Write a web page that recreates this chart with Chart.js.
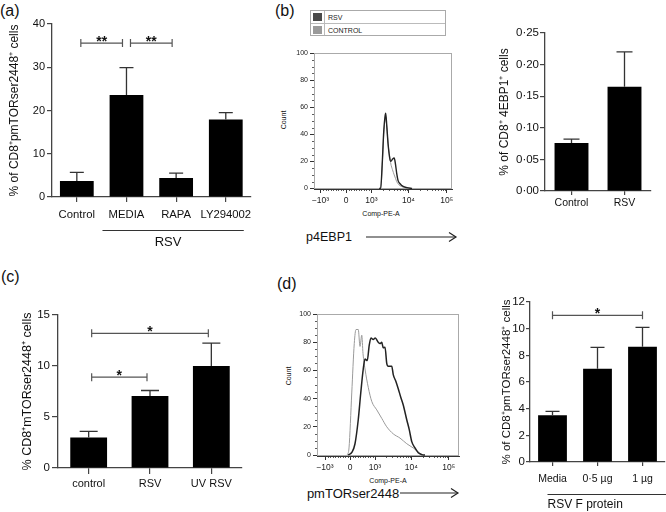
<!DOCTYPE html>
<html><head><meta charset="utf-8">
<script src="https://cdn.jsdelivr.net/npm/chart.js@4.4.0/dist/chart.umd.min.js"></script>
<style>
body{margin:0;background:#fff;width:666px;height:512px;overflow:hidden;position:relative;font-family:"Liberation Sans",Arial,sans-serif;}
canvas{position:absolute;}
.t{position:absolute;white-space:nowrap;color:#111;line-height:1;transform:translate(-50%,-50%);}
.lab{position:absolute;white-space:nowrap;color:#111;line-height:1;font-size:16px;}
</style></head><body>
<div class="lab" style="left:0px;top:3px">(a)</div>
<div class="lab" style="left:275px;top:3px">(b)</div>
<div class="lab" style="left:1px;top:269px">(c)</div>
<div class="lab" style="left:277px;top:276px">(d)</div>

<!-- legend of (b) histogram -->
<div style="position:absolute;left:310px;top:10px;width:136px;height:26px;border:1px solid #aaa;box-sizing:border-box;">
  <div style="position:absolute;left:13px;top:0;width:1px;height:24px;background:#bbb"></div>
  <div style="position:absolute;left:0;top:12px;width:134px;height:1px;background:#bbb"></div>
  <div style="position:absolute;left:2px;top:2px;width:9px;height:8px;background:#4a4a4a"></div>
  <div style="position:absolute;left:2px;top:15px;width:9px;height:8px;background:#9a9a9a"></div>
  <div style="position:absolute;left:17px;top:2px;font-size:7px;line-height:9px;color:#222">RSV</div>
  <div style="position:absolute;left:17px;top:15px;font-size:7px;line-height:9px;color:#222">CONTROL</div>
</div>

<div class="t" style="left:283px;top:120px;font-size:7px;transform:translate(-50%,-50%) rotate(-90deg)">Count</div>
<div class="t" style="left:381px;top:213px;font-size:7px">Comp-PE-A</div>
<div class="t" style="left:329px;top:237px;font-size:12.5px">p4EBP1</div>
<svg style="position:absolute;left:364px;top:230px" width="96" height="14"><line x1="2" y1="7" x2="92" y2="7" stroke="#222" stroke-width="1.2"/><polyline points="85,2.5 92,7 85,11.5" fill="none" stroke="#222" stroke-width="1.2"/></svg>

<div class="t" style="left:288px;top:376px;font-size:7px;transform:translate(-50%,-50%) rotate(-90deg)">Count</div>
<div class="t" style="left:388px;top:480px;font-size:7px">Comp-PE-A</div>
<div class="t" style="left:353px;top:493px;font-size:13px">pmTORser2448</div>
<svg style="position:absolute;left:398px;top:486px" width="64" height="14"><line x1="2" y1="7" x2="60" y2="7" stroke="#222" stroke-width="1.2"/><polyline points="53,2.5 60,7 53,11.5" fill="none" stroke="#222" stroke-width="1.2"/></svg>

<script>
// ---------- DATA ----------
// (a)
const aLabels = ['Control', 'MEDIA', 'RAPA', 'LY294002'];
const aMeans = [3.7, 23.6, 4.4, 17.9];
const aSem = [2.0, 6.3, 1.1, 1.6];
const aSig = [{from: 0, to: 1, y: 35.6, label: '**'}, {from: 1, to: 2, y: 35.6, label: '**'}];
// (b) bar
const bLabels = ['Control', 'RSV'];
const bMeans = [0.076, 0.165];
const bSem = [0.006, 0.055];
// (b) histogram (x in display units of the biexponential axis)
const bHistX = [1.30, 1.36, 1.42, 1.48, 1.53, 1.557, 1.60, 1.65, 1.71, 1.76, 1.82, 1.89, 1.94, 1.99, 2.04, 2.12, 2.24, 2.39, 2.59];
const bHistRsv = [0, 0, 18, 42, 53, 55.5, 46, 33, 23, 20, 21.5, 22.5, 18, 11, 6, 3.5, 1.5, 0.6, 0];
const bHistCtl = [0, 0, 17, 40, 51, 53, 45, 33, 24, 18, 14, 10, 7.5, 5, 3.5, 2, 1, 0.3, 0];
// (c)
const cLabels = ['control', 'RSV', 'UV RSV'];
const cMeans = [3.0, 7.05, 10.0];
const cSem = [0.6, 0.55, 2.25];
const cSig = [{from: 0, to: 2, y: 13.2, label: '*'}, {from: 0, to: 1, y: 8.9, label: '*'}];
// (d) histogram
const dCtlX = [-0.11, -0.04, 0.07, 0.17, 0.24, 0.33, 0.40, 0.47, 0.52, 0.60, 0.73, 0.87, 1.07, 1.27, 1.47, 1.73, 2.0, 2.27, 2.53, 2.8, 2.93];
const dCtl = [0, 5, 44, 79, 89, 89, 77, 85, 72, 61, 48, 38, 32, 26, 20, 15, 12, 8, 5, 1.2, 0];
const dRsvX = [-0.07, 0.08, 0.2, 0.33, 0.43, 0.53, 0.6, 0.69, 0.77, 0.84, 0.93, 1.01, 1.13, 1.2, 1.27, 1.33, 1.4, 1.47, 1.53, 1.67, 1.73, 1.84, 1.93, 2.03, 2.13, 2.27, 2.37, 2.47, 2.6, 2.73, 2.87, 3.0];
const dRsv = [0, 2, 8, 25, 44, 61, 68, 67, 78, 83, 82, 83, 80, 79, 80, 76, 76.5, 65, 63, 63, 57, 52, 47, 41, 35.5, 25, 18, 9.5, 5, 1.6, 0.3, 0];
// (d) bar
const dLabels = ['Media', '0·5 µg', '1 µg'];
const dMeans = [3.5, 7.0, 8.65];
const dSem = [0.3, 1.6, 1.45];
const dSig = [{from: 0, to: 2, y: 11.0, label: '*'}];
// histogram axis ticks
const histTickPos = [-1, 0, 1, 2.45, 3.95];
const histTickLbl = ['−10³', '0', '10³', '10⁴', '10⁵'];
const histCountTicks = [0, 20, 40, 60, 80, 100];

// ---------- HELPERS ----------
const FONT = '"Liberation Sans", Arial, sans-serif';
const AX = '#444';
Chart.defaults.font.family = FONT;
Chart.defaults.color = '#111';

function mkCanvas(L, T, W, H) {
  const c = document.createElement('canvas');
  c.width = W; c.height = H;
  c.style.left = L + 'px'; c.style.top = T + 'px';
  c.style.width = W + 'px'; c.style.height = H + 'px';
  document.body.appendChild(c);
  return c;
}

function errPlugin(o) {
  return {
    id: 'errSig',
    afterDatasetsDraw(chart) {
      const ctx = chart.ctx, y = chart.scales.y, bars = chart.getDatasetMeta(0).data;
      ctx.save();
      ctx.strokeStyle = '#333'; ctx.lineWidth = 1.3;
      o.values.forEach((v, i) => {
        const bx = bars[i].x, y0 = y.getPixelForValue(v), y1 = y.getPixelForValue(v + o.errs[i]);
        ctx.beginPath();
        ctx.moveTo(bx, y0); ctx.lineTo(bx, y1);
        ctx.moveTo(bx - o.cap, y1); ctx.lineTo(bx + o.cap, y1);
        ctx.stroke();
      });
      (o.sig || []).forEach(s => {
        const x0 = bars[s.from].x + o.sigInset, x1 = bars[s.to].x - o.sigInset, yy = y.getPixelForValue(s.y);
        ctx.strokeStyle = '#555'; ctx.lineWidth = 1.2;
        ctx.beginPath();
        ctx.moveTo(x0, yy); ctx.lineTo(x1, yy);
        ctx.moveTo(x0, yy - 4); ctx.lineTo(x0, yy + 4);
        ctx.moveTo(x1, yy - 4); ctx.lineTo(x1, yy + 4);
        ctx.stroke();
        ctx.fillStyle = '#111'; ctx.font = 'bold 14px ' + FONT;
        ctx.textAlign = 'center'; ctx.textBaseline = 'alphabetic';
        ctx.fillText(s.label, (x0 + x1) / 2, yy + 3);
      });
      if (o.group) {
        const g = o.group;
        const gx0 = bars[g.from].x + g.dx, gx1 = bars[bars.length - 1].x + g.dx1;
        ctx.strokeStyle = '#333'; ctx.lineWidth = 1;
        ctx.beginPath(); ctx.moveTo(gx0, g.lineY + 0.5); ctx.lineTo(gx1, g.lineY + 0.5); ctx.stroke();
        ctx.fillStyle = '#111'; ctx.font = g.size + 'px ' + FONT;
        ctx.textAlign = g.align; ctx.textBaseline = 'middle';
        ctx.fillText(g.text, g.align === 'left' ? gx0 : (g.textX != null ? g.textX : (gx0 + gx1) / 2), g.textY);
      }
      ctx.restore();
    }
  };
}

function barPanel(o) {
  const [L, T, W, H] = o.box, [al, at, ar, ab] = o.area;
  const c = mkCanvas(L, T, W, H);
  const lh = o.titleSize * 1.2;
  return new Chart(c, {
    type: 'bar',
    data: {labels: o.labels, datasets: [{data: o.values, backgroundColor: '#000', borderWidth: 0, barPercentage: o.barPct, categoryPercentage: 1}]},
    options: {
      responsive: false, animation: false, devicePixelRatio: 1, events: [],
      layout: {padding: {left: 0, top: at - T, right: L + W - ar, bottom: 0}},
      plugins: {legend: {display: false}, tooltip: {enabled: false}},
      scales: {
        x: {
          offset: true,
          grid: {drawOnChartArea: false, offset: false, tickLength: o.xTick, color: AX, lineWidth: 1.2},
          border: {color: AX, width: 1.3},
          ticks: {font: {size: o.xFont}, color: '#111', padding: o.xPad, maxRotation: 0, autoSkip: false},
          afterFit: s => { s.height = T + H - ab; }
        },
        y: {
          min: 0, max: o.yMax,
          grid: {drawOnChartArea: false, tickLength: o.yTick, color: AX, lineWidth: 1.2},
          border: {color: AX, width: 1.3},
          ticks: {stepSize: o.step, font: {size: o.yFont}, color: '#111', padding: o.yPad,
                  callback: v => o.dec ? v.toFixed(o.dec).replace('.', '·') : v},
          title: {display: true, text: o.title, font: {size: o.titleSize}, color: '#111',
                  padding: {top: o.titleX - L - lh / 2, bottom: 0}},
          afterFit: s => { s.width = al - L; }
        }
      }
    },
    plugins: [errPlugin(o)]
  });
}

const framePlugin = {
  id: 'frame',
  beforeDatasetsDraw(chart) {
    const a = chart.chartArea, ctx = chart.ctx;
    ctx.save(); ctx.strokeStyle = '#aaa'; ctx.lineWidth = 1;
    ctx.strokeRect(a.left + 0.5, a.top + 0.5, a.right - a.left - 1, a.bottom - a.top - 1);
    ctx.restore();
  }
};

function minorPlugin() {
  return {
    id: 'minor',
    afterDraw(chart) {
      const x = chart.scales.x, y = chart.scales.y, ctx = chart.ctx, a = chart.chartArea;
      ctx.save(); ctx.strokeStyle = '#333'; ctx.lineWidth = 0.8;
      ctx.beginPath();
      for (let v = 0; v <= 100; v += 5) {
        if (v % 20 === 0) continue;
        const py = Math.round(y.getPixelForValue(v)) + 0.5;
        ctx.moveTo(a.left - 2, py); ctx.lineTo(a.left, py);
      }
      const mins = [];
      for (let k = 1; k < 10; k++) mins.push(-1 + k * 0.1, k * 0.1);
      for (let k = 2; k < 10; k++) mins.push(1 + 1.45 * Math.log10(k), 2.45 + 1.5 * Math.log10(k));
      mins.forEach(v => {
        const px = Math.round(x.getPixelForValue(v)) + 0.5;
        ctx.moveTo(px, a.bottom); ctx.lineTo(px, a.bottom + 2);
      });
      ctx.stroke(); ctx.restore();
    }
  };
}

function histPanel(o) {
  const [L, T, W, H] = o.box, [al, at, ar, ab] = o.area;
  const c = mkCanvas(L, T, W, H);
  return new Chart(c, {
    type: 'scatter',
    data: {datasets: o.series.map(s => ({
      data: s.x.map((v, i) => ({x: v, y: s.y[i]})), showLine: true, borderColor: s.color,
      borderWidth: s.w, pointRadius: 0, cubicInterpolationMode: 'monotone', fill: false, order: s.order}))},
    options: {
      responsive: false, animation: false, devicePixelRatio: 1, events: [],
      layout: {padding: {left: 0, top: at - T, right: L + W - ar, bottom: 0}},
      plugins: {legend: {display: false}, tooltip: {enabled: false}},
      scales: {
        x: {
          type: 'linear', min: o.xMin, max: o.xMax,
          afterBuildTicks: s => { s.ticks = histTickPos.map(v => ({value: v})); },
          ticks: {font: {size: 8.5}, color: '#222', padding: 3, maxRotation: 0, autoSkip: false,
                  callback: v => histTickLbl[histTickPos.indexOf(v)]},
          grid: {drawOnChartArea: false, tickLength: 4, color: '#333'},
          border: {color: '#333', width: 1},
          afterFit: s => { s.height = T + H - ab; }
        },
        y: {
          min: o.yMin, max: 100,
          afterBuildTicks: s => { s.ticks = histCountTicks.map(v => ({value: v})); },
          ticks: {font: {size: 7}, color: '#222', padding: 2},
          grid: {drawOnChartArea: false, tickLength: 4, color: '#333'},
          border: {color: '#333', width: 1},
          afterFit: s => { s.width = al - L; }
        }
      }
    },
    plugins: [framePlugin, minorPlugin()]
  });
}

// ---------- PANELS ----------
barPanel({box: [0, 0, 258, 250], area: [52, 24, 251, 197], labels: aLabels, values: aMeans, errs: aSem,
  yMax: 40, step: 10, barPct: 0.68, xFont: 11.3, yFont: 11, xPad: 6, yPad: 2, xTick: 5, yTick: 5,
  title: '% of CD8⁺pmTORser2448⁺ cells', titleSize: 12, titleX: 15, cap: 7, sig: aSig, sigInset: 4,
  group: {from: 1, dx: -24, dx1: 18, lineY: 230, textY: 242, text: 'RSV', size: 13, align: 'center', textX: 168}});

barPanel({box: [470, 0, 196, 250], area: [545, 33, 651, 191], labels: bLabels, values: bMeans, errs: bSem,
  yMax: 0.25, step: 0.05, dec: 2, barPct: 0.64, xFont: 10.5, yFont: 11.5, xPad: 2, yPad: 1, xTick: 4, yTick: 5,
  title: '% of CD8⁺ 4EBP1⁺ cells', titleSize: 12, titleX: 505, cap: 8});

histPanel({box: [270, 40, 190, 175], area: [314, 53, 452, 189], xMin: -1.255, xMax: 4.157, yMin: -0.4,
  series: [{x: bHistX, y: bHistCtl, color: '#9a9a9a', w: 1, order: 2}, {x: bHistX, y: bHistRsv, color: '#222', w: 1.4, order: 1}]});

barPanel({box: [0, 255, 255, 257], area: [58, 315, 242, 468], labels: cLabels, values: cMeans, errs: cSem,
  yMax: 15, step: 5, barPct: 0.6, xFont: 11, yFont: 11.5, xPad: 3, yPad: 2, xTick: 6, yTick: 6,
  title: '% CD8⁺mTORser2448⁺ cells', titleSize: 12.5, titleX: 28, cap: 9, sig: cSig, sigInset: 3});

histPanel({box: [280, 300, 185, 175], area: [317, 314, 459, 456], xMin: -1.32, xMax: 4.36, yMin: -0.7,
  series: [{x: dCtlX, y: dCtl, color: '#9a9a9a', w: 1, order: 2}, {x: dRsvX, y: dRsv, color: '#222', w: 1.5, order: 1}]});

barPanel({box: [485, 255, 181, 257], area: [530, 302, 665, 462], labels: dLabels, values: dMeans, errs: dSem,
  yMax: 12, step: 2, barPct: 0.64, xFont: 10.5, yFont: 11.5, xPad: 7, yPad: 1, xTick: 4, yTick: 4,
  title: '% of CD8⁺pmTORser2448⁺ cells', titleSize: 11.5, titleX: 507, cap: 7, sig: dSig, sigInset: 0,
  group: {from: 0, dx: -5, dx1: 30, lineY: 494 - 255, textY: 505 - 255, text: 'RSV F protein', size: 12, align: 'left'}});
</script>
</body></html>
